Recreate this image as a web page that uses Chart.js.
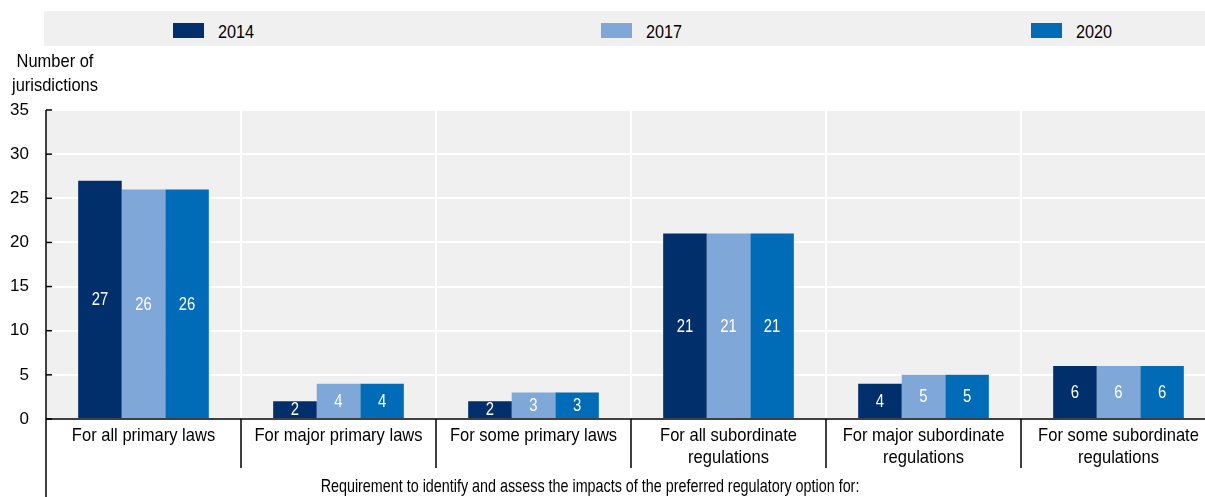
<!DOCTYPE html>
<html>
<head>
<meta charset="utf-8">
<script src="https://cdn.jsdelivr.net/npm/chart.js@4/dist/chart.umd.min.js"></script>
<style>
  html, body { margin: 0; padding: 0; background: #fff; overflow: hidden; width: 1205px; height: 497px; }
  #wrap { position: absolute; left: 0; top: 0; width: 1216px; height: 497px; }
  .txt { font-family: "Liberation Sans", Arial, sans-serif; color: #000; }
  #legend { position: absolute; left: 44px; top: 11px; width: 1161px; height: 35px; background: #f0f0f0; }
  .lbox { position: absolute; top: 12px; width: 31px; height: 15px; }
  .ltxt { position: absolute; top: 11px; font-size: 18px; line-height: 20px; transform: scaleX(0.9); transform-origin: left center; }
  #ytitle { position: absolute; left: 0; top: 49px; width: 110px; text-align: center; font-size: 18.5px; line-height: 24px; transform: scaleX(0.89); transform-origin: 55px 0; }
</style>
</head>
<body>
<div id="wrap"><canvas id="c" width="1216" height="497"></canvas></div>
<div id="legend"></div>
<div id="ytitle" class="txt">Number of<br>jurisdictions</div>
<script>
const categories = [
  ["For all primary laws"],
  ["For major primary laws"],
  ["For some primary laws"],
  ["For all subordinate", "regulations"],
  ["For major subordinate", "regulations"],
  ["For some subordinate", "regulations"]
];
const seriesNames = ["2014", "2017", "2020"];
const values2014 = [27, 2, 2, 21, 4, 6];
const values2017 = [26, 4, 3, 21, 5, 6];
const values2020 = [26, 4, 3, 21, 5, 6];
const seriesColors = ["#002F6C", "#7FA8D9", "#006BB6"];
const yTicks = [0, 5, 10, 15, 20, 25, 30, 35];
const xTitle = "Requirement to identify and assess the impacts of the preferred regulatory option for:";

const FONT = '"Liberation Sans", Arial, sans-serif';

// HTML legend
const legendPos = [129, 557, 987];
const leg = document.getElementById('legend');
seriesNames.forEach((n, i) => {
  const b = document.createElement('div');
  b.className = 'lbox';
  b.style.left = legendPos[i] + 'px';
  b.style.background = seriesColors[i];
  leg.appendChild(b);
  const t = document.createElement('div');
  t.className = 'ltxt txt';
  t.style.left = (legendPos[i] + 45) + 'px';
  t.textContent = n;
  leg.appendChild(t);
});

function scaledText(ctx, text, x, y, sx) {
  ctx.save();
  ctx.translate(x, y);
  ctx.scale(sx, 1);
  ctx.fillText(text, 0, 0);
  ctx.restore();
}

const decor = {
  id: 'decor',
  beforeDraw(chart) {
    const { ctx, chartArea: a } = chart;
    ctx.save();
    ctx.fillStyle = '#f0f0f0';
    ctx.fillRect(a.left, a.top, a.right - a.left, a.bottom - a.top);
    ctx.restore();
  },
  afterDatasetsDraw(chart) {
    const { ctx } = chart;
    ctx.save();
    ctx.font = '17.5px ' + FONT;
    ctx.fillStyle = '#ffffff';
    ctx.textAlign = 'center';
    ctx.textBaseline = 'middle';
    chart.data.datasets.forEach((ds, di) => {
      const meta = chart.getDatasetMeta(di);
      meta.data.forEach((el, i) => {
        const v = ds.data[i];
        const y = (el.y + el.base) / 2;
        scaledText(ctx, String(v), el.x, y + 1, 0.85);
      });
    });
    ctx.restore();
  },
  afterDraw(chart) {
    const { ctx, chartArea: a, scales } = chart;
    const x = scales.x, y = scales.y;
    ctx.save();
    ctx.strokeStyle = '#000';
    ctx.lineWidth = 1.5;
    // y axis line extended down
    ctx.beginPath();
    ctx.moveTo(a.left, a.top);
    ctx.lineTo(a.left, chart.height);
    ctx.stroke();
    // x axis line
    ctx.beginPath();
    ctx.moveTo(a.left, a.bottom);
    ctx.lineTo(a.right, a.bottom);
    ctx.stroke();
    // inward y ticks
    yTicks.forEach(t => {
      const py = y.getPixelForValue(t);
      ctx.beginPath();
      ctx.moveTo(a.left, py);
      ctx.lineTo(a.left + 6, py);
      ctx.stroke();
    });
    // category separators below axis
    const n = categories.length;
    const w = (a.right - a.left) / n;
    for (let i = 1; i < n; i++) {
      const px = x.getPixelForValue(i) - w / 2;
      ctx.beginPath();
      ctx.moveTo(px, a.bottom);
      ctx.lineTo(px, a.bottom + 49);
      ctx.stroke();
    }
    // category labels
    ctx.font = '19px ' + FONT;
    ctx.fillStyle = '#000';
    ctx.textAlign = 'center';
    ctx.textBaseline = 'alphabetic';
    categories.forEach((lines, i) => {
      const px = x.getPixelForValue(i);
      lines.forEach((ln, j) => {
        scaledText(ctx, ln, px, a.bottom + 22 + j * 22, 0.87);
      });
    });
    // x title
    ctx.font = '18.5px ' + FONT;
    scaledText(ctx, xTitle, 590, 492, 0.775);
    ctx.restore();
  }
};

new Chart(document.getElementById('c'), {
  type: 'bar',
  data: {
    labels: categories,
    datasets: [
      { label: seriesNames[0], data: values2014, backgroundColor: seriesColors[0] },
      { label: seriesNames[1], data: values2017, backgroundColor: seriesColors[1] },
      { label: seriesNames[2], data: values2020, backgroundColor: seriesColors[2] }
    ]
  },
  options: {
    responsive: false,
    devicePixelRatio: 1,
    animation: false,
    layout: { padding: { top: 110, right: 0, left: 0, bottom: 0 } },
    datasets: { bar: { categoryPercentage: 0.67, barPercentage: 1.0, borderWidth: 0 } },
    plugins: { legend: { display: false }, tooltip: { enabled: false } },
    scales: {
      x: {
        offset: true,
        grid: { display: true, offset: true, color: '#ffffff', lineWidth: 2, drawTicks: false },
        border: { display: false },
        ticks: { display: false },
        afterFit(s) { s.height = 78; }
      },
      y: {
        min: 0, max: 35,
        grid: { color: '#ffffff', lineWidth: 2, drawTicks: false },
        border: { display: false },
        afterBuildTicks(s) { s.ticks = yTicks.map(v => ({ value: v })); },
        ticks: { color: '#000', font: { family: FONT, size: 17 }, padding: 17 },
        afterFit(s) { s.width = 46; }
      }
    }
  },
  plugins: [decor]
});
</script>
</body>
</html>
